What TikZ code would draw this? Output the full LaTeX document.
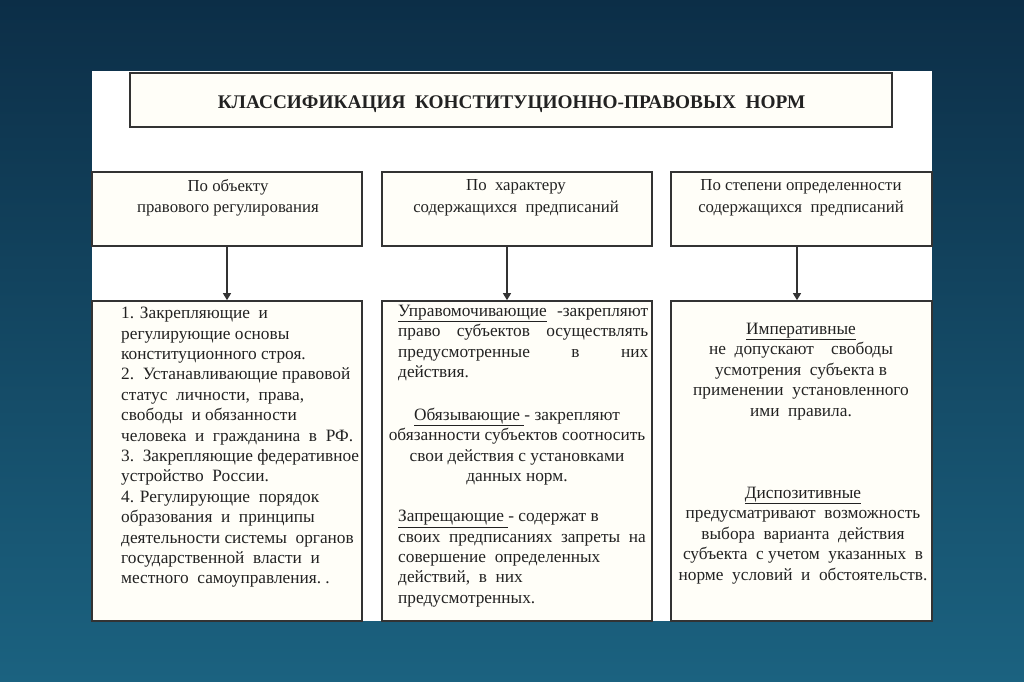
\documentclass[tikz,border=0pt]{standalone}
\usepackage{fontspec}
\setmainfont{Liberation Serif}
\usetikzlibrary{arrows.meta}
\definecolor{bgtop}{HTML}{0C2E47}
\definecolor{bgbot}{HTML}{1B6280}
\definecolor{cream}{HTML}{FFFEF8}
\definecolor{edge}{HTML}{333333}
\definecolor{ink}{HTML}{222222}
\tikzset{
  frame/.style={draw=edge, line width=1.7pt, fill=cream, inner sep=0pt},
  txt/.style={text=ink, inner sep=0pt, font=\fontsize{17.3}{20.4}\selectfont},
  head/.style={text=ink, inner sep=0pt, align=center, font=\fontsize{16.8}{21.5}\selectfont},
  arr/.style={draw=edge, line width=1.3pt, -{Triangle[length=7pt,width=8pt]}}
}
\begin{document}
\begin{tikzpicture}[x=1pt,y=-1pt]
\useasboundingbox (0,0) rectangle (1024,681);
% background
\shade[top color=bgtop, bottom color=bgbot] (0,0) rectangle (1024,681);
% white panel
\fill[white] (92,71) rectangle (932,621);
% title
\node[frame, minimum width=762pt, minimum height=54pt] (title) at (511,100) {};
\node[text=ink, inner sep=0pt, font=\fontsize{19.3}{20}\selectfont\bfseries] (titletext) at (511.5,104) {КЛАССИФИКАЦИЯ\ \ КОНСТИТУЦИОННО-ПРАВОВЫХ\ \ НОРМ};
% header boxes
\node[frame, minimum width=270pt, minimum height=74pt] (h1) at (227,209) {};
\node[frame, minimum width=270pt, minimum height=74pt] (h2) at (517,209) {};
\node[frame, minimum width=261pt, minimum height=74pt] (h3) at (801.5,209) {};
\node[head] (h1t) at (228,198) {По объекту\\правового регулирования};
\node[head] (h2t) at (516,198) {По\ \ характеру\\содержащихся\ \ предписаний};
\node[head] (h3t) at (801,198) {По степени определенности\\содержащихся\ \ предписаний};
% body boxes
\node[frame, minimum width=270pt, minimum height=320pt] (b1) at (227,461) {};
\node[frame, minimum width=270pt, minimum height=320pt] (b2) at (517,461) {};
\node[frame, minimum width=261pt, minimum height=320pt] (b3) at (801.5,461) {};
% arrows
\draw[arr] (h1.south) -- (b1.north);
\draw[arr] ([xshift=-10pt]h2.south) -- ([xshift=-10pt]b2.north);
\draw[arr] ([xshift=-4.5pt]h3.south) -- ([xshift=-4.5pt]b3.north);
% left body text
\node[txt, anchor=north west, align=left] (t1) at (121,307) {%
1. Закрепляющие\ \ и\\
регулирующие основы\\
конституционного строя.\\
2.\ \ Устанавливающие правовой\\
статус\ \ личности,\ \ права,\\
свободы\ \ и обязанности\\
человека\ \ и\ \ гражданина\ \ в\ \ РФ.\\
3.\ \ Закрепляющие федеративное\\
устройство\ \ России.\\
4. Регулирующие\ \ порядок\\
образования\ \ и\ \ принципы\\
деятельности системы\ \ органов\\
государственной\ \ власти\ \ и\\
местного\ \ самоуправления.\ .};
% middle body text
\node[txt, anchor=north west, text width=250pt, align=justify] (t2a) at (398,305) {%
\underline{Управомочивающие}\ \ -закрепляют\linebreak
право субъектов осуществлять\linebreak
предусмотренные в них\linebreak
действия.};
\node[txt, anchor=north, align=center] (t2b) at (517,408) {%
\underline{Обязывающие }- закрепляют\\
обязанности субъектов соотносить\\
свои действия с установками\\
данных норм.};
\node[txt, anchor=north west, align=left] (t2c) at (398,510) {%
\underline{Запрещающие }-\ содержат в\\
своих\ \ предписаниях\ \ запреты\ \ на\\
совершение\ \ определенных\\
действий,\ \ в\ \ них\\
предусмотренных.};
% right body text
\node[txt, anchor=north, align=center] (t3a) at (801,323) {%
\underline{Императивные}\\
не\ \ допускают\ \ \ \ свободы\\
усмотрения\ \ субъекта в\\
применении\ \ установленного\\
ими\ \ правила.};
\node[txt, anchor=north, align=center] (t3b) at (803,487) {%
\underline{Диспозитивные}\\
предусматривают\ \ возможность\\
выбора\ \ варианта\ \ действия\\
субъекта\ \ с учетом\ \ указанных\ \ в\\
норме\ \ условий\ \ и\ \ обстоятельств.};
\end{tikzpicture}
\end{document}
